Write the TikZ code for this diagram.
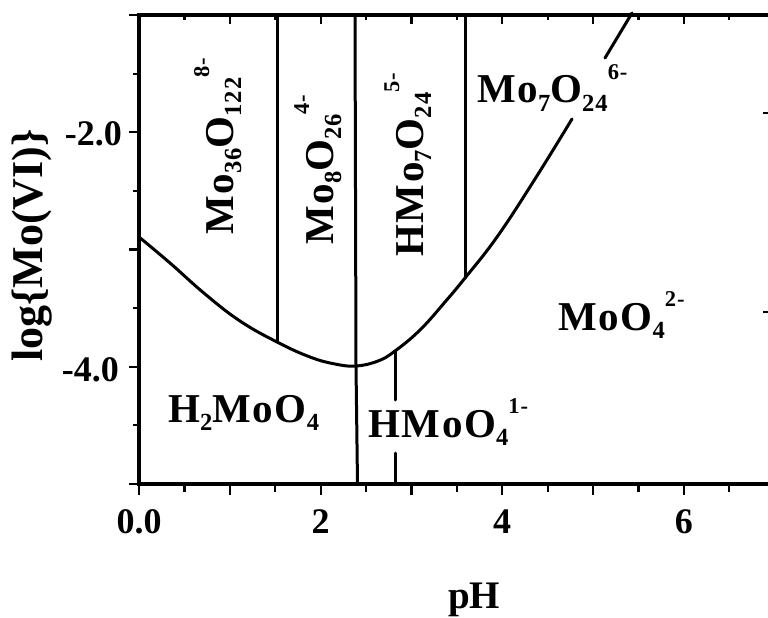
\documentclass[tikz,border=0pt]{standalone}
\usepackage{fontspec}
\setmainfont{Liberation Serif}
\newcommand\sbx[1]{\raisebox{-0.2em}{\scalebox{0.6}{#1}}}
\newcommand\spx[1]{\raisebox{0.58em}{\scalebox{0.55}{#1}}}
\tikzset{
  ax/.style={line width=3.2bp, line cap=rect},
  crv/.style={line width=3bp, line cap=round, line join=round},
  tck/.style={line width=2.2bp},
  lab/.style={inner sep=0pt, font=\fontsize{41bp}{48bp}\selectfont\bfseries\addfontfeature{LetterSpace=4}},
  tlab/.style={inner sep=0pt, font=\fontsize{36bp}{42bp}\selectfont\bfseries},
}
\begin{document}
\begin{tikzpicture}[x=1bp,y=-1bp]
\useasboundingbox (0,0) rectangle (768,618);
\fill[white] (0,0) rectangle (768,618);
% axes
\draw[ax] (139,484) -- (139,15);
\draw[ax] (139,15) -- (768,15);
\draw[ax] (139,484) -- (768,484);
% left ticks
\foreach \v in {1,2,3,4,5}{
  \pgfmathsetmacro\yy{15+117.25*(\v-1)}
  \draw[tck] (129,\yy) -- (139,\yy);}
\foreach \v in {1.5,2.5,3.5,4.5}{
  \pgfmathsetmacro\yy{15+117.25*(\v-1)}
  \draw[tck] (133,\yy) -- (139,\yy);}
% bottom ticks
\foreach \p in {0,1,...,6}{
  \pgfmathsetmacro\xx{139+90.8*\p}
  \draw[tck] (\xx,484) -- (\xx,495);}
\foreach \p in {0.5,1.5,...,6.5}{
  \pgfmathsetmacro\xx{139+90.8*\p}
  \draw[tck] (\xx,484) -- (\xx,492);}
% top ticks
\foreach \p in {1,...,6}{
  \pgfmathsetmacro\xx{139+90.8*\p}
  \draw[tck] (\xx,15) -- (\xx,24);}
\foreach \p in {0.5,1.5,...,6.5}{
  \pgfmathsetmacro\xx{139+90.8*\p}
  \draw[tck] (\xx,15) -- (\xx,20);}
% right edge marks
\draw[line width=1.2bp] (763,113) -- (768,113);
\draw[line width=1.2bp] (763,312) -- (768,312);
% boundary curve
\draw[crv] plot[smooth, tension=0.7] coordinates {(139,237) (170,263) (205,294) (240,321) (277,342) (310,357) (335,364) (356,366) (378,361) (395,351) (420,330) (445,302) (465,278) (497,237) (535,179) (572,119)};
\draw[crv] (605,58) -- (632,13);
% vertical boundaries
\draw[crv] (277,15) -- (277,342);
\draw[crv] (355,15) -- (356,366);
\draw[crv] (356,366) -- (357.5,484);
\draw[crv] (465,15) -- (465,278);
\draw[crv] (395,351) -- (395,400);
\draw[crv] (395,453) -- (395,484);
% region labels
\node[lab, rotate=90, anchor=base west] (m36) at (233,235) {Mo\sbx{36}O\sbx{122}\spx{8-}};
\node[lab, rotate=90, anchor=base west] (m8) at (333,245) {Mo\sbx{8}O\sbx{26}\spx{4-}};
\node[lab, rotate=90, anchor=base west] (hm7) at (423,257) {HMo\sbx{7}O\sbx{24}\spx{5-}};
\node[lab, anchor=base west] (m7) at (477,103) {Mo\sbx{7}O\sbx{24}\spx{6-}};
\node[lab, anchor=base west] (mo4) at (558,330) {MoO\sbx{4}\spx{2-}};
\node[lab, anchor=base west] (h2) at (168,422) {H\sbx{2}MoO\sbx{4}};
\node[lab, anchor=base west] (hmo4) at (368,437) {HMoO\sbx{4}\spx{1-}};
% tick labels
\node[tlab, anchor=base] (x0) at (139,533) {0.0};
\node[tlab, anchor=base] (x2) at (320.6,533) {2};
\node[tlab, anchor=base] (x4) at (502.2,533) {4};
\node[tlab, anchor=base] (x6) at (683.8,533) {6};
\node[tlab, anchor=base east] (y2) at (122,146) {-2.0};
\node[tlab, anchor=base east] (y4) at (119,381) {-4.0};
% axis labels
\node[inner sep=0pt, font=\fontsize{39bp}{46bp}\selectfont\bfseries, anchor=base west] (xl) at (448,608) {pH};
\node[inner sep=0pt, font=\fontsize{44bp}{50bp}\selectfont\bfseries, rotate=90, anchor=base west] (yl) at (42,362) {log\{Mo(VI)\}};
\end{tikzpicture}
\end{document}
